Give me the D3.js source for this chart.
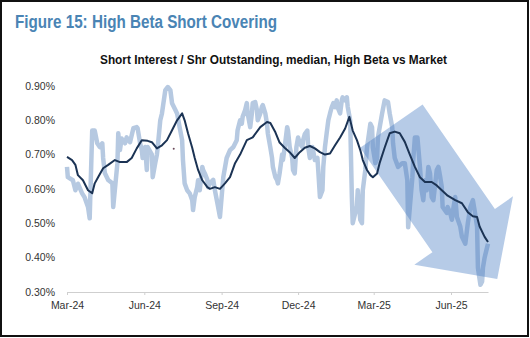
<!DOCTYPE html>
<html><head><meta charset="utf-8">
<script src="https://cdn.jsdelivr.net/npm/d3@7"></script>
<style>
html,body{margin:0;padding:0;background:#fff;}
svg{display:block;}
</style></head>
<body>
<script>
// ---- DATA ----
const startDateStr = "2024-03-01";
const endDateStr = "2025-07-15";
const yTicks = [0.30, 0.40, 0.50, 0.60, 0.70, 0.80, 0.90];
const xTickDates = ["2024-03-01","2024-06-01","2024-09-01","2024-12-01","2025-03-01","2025-06-01"];
// High Beta short interest (light series): day offsets from start date, value in %
const lightDays = [0,1,7,10,13,18,21,25,27,30,33,36,39,42,43,45,49,54,55,60,61,63,65,69,71,75,79,83,84,87,89,90,93,95,96,101,102,105,107,108,111,113,117,120,123,125,129,131,134,137,138,140,143,146,149,150,152,155,156,158,161,162,164,167,168,170,174,176,179,182,184,186,190,194,198,202,203,206,208,209,212,214,215,218,220,221,224,226,227,230,232,233,236,238,239,242,244,245,248,250,251,253,256,257,259,262,263,265,268,269,271,273,275,277,280,281,283,286,287,289,292,295,298,299,301,304,305,307,309,311,313,315,317,319,321,322,325,327,328,331,333,334,337,339,340,343,345,346,349,351,352,355,357,361,363,364,367,369,370,375,378,382,384,387,388,390,394,399,402,405,406,408,411,412,414,417,418,420,422,424,426,428,430,432,434,436,440,442,444,446,447,452,453,456,458,460,462,464,468,470,474,477,480,483,485,488,489,492,494,495,497,500,501];
const lightVals = [0.664,0.634,0.625,0.596,0.615,0.587,0.575,0.547,0.514,0.770,0.770,0.733,0.722,0.733,0.690,0.646,0.626,0.616,0.547,0.675,0.762,0.713,0.747,0.733,0.750,0.736,0.777,0.780,0.777,0.733,0.713,0.690,0.722,0.655,0.722,0.700,0.634,0.675,0.700,0.722,0.800,0.820,0.888,0.897,0.888,0.850,0.830,0.820,0.780,0.742,0.684,0.616,0.596,0.587,0.567,0.538,0.576,0.605,0.625,0.596,0.664,0.655,0.645,0.626,0.605,0.616,0.626,0.596,0.558,0.518,0.576,0.634,0.690,0.713,0.722,0.742,0.771,0.800,0.790,0.810,0.830,0.850,0.820,0.780,0.820,0.850,0.853,0.830,0.800,0.820,0.840,0.844,0.820,0.790,0.762,0.720,0.690,0.664,0.634,0.625,0.616,0.645,0.700,0.684,0.720,0.780,0.770,0.722,0.690,0.655,0.645,0.722,0.750,0.733,0.722,0.742,0.760,0.770,0.722,0.690,0.722,0.684,0.690,0.655,0.576,0.596,0.664,0.722,0.762,0.800,0.820,0.838,0.850,0.838,0.858,0.838,0.820,0.858,0.867,0.858,0.867,0.840,0.800,0.576,0.500,0.530,0.550,0.596,0.510,0.500,0.596,0.655,0.720,0.790,0.780,0.720,0.675,0.690,0.750,0.820,0.858,0.853,0.820,0.780,0.733,0.690,0.664,0.675,0.675,0.625,0.488,0.547,0.634,0.684,0.750,0.750,0.722,0.664,0.596,0.567,0.625,0.596,0.664,0.645,0.576,0.567,0.655,0.664,0.636,0.605,0.547,0.530,0.547,0.530,0.510,0.547,0.576,0.518,0.490,0.460,0.440,0.500,0.547,0.567,0.538,0.490,0.370,0.320,0.330,0.370,0.400,0.430,0.440];
// Smoothed series (dark line): day offsets and values in %
const darkDays = [0,6,10,13,19,25,30,33,37,43,49,57,63,71,77,83,89,96,101,107,113,119,125,131,137,140,144,149,152,156,161,167,170,176,182,188,194,200,206,214,221,230,238,242,248,253,259,265,271,277,283,289,295,301,307,313,319,325,331,336,340,345,349,352,357,361,364,369,372,378,384,390,396,402,408,414,420,426,434,440,446,453,462,470,477,483,488,491,497,501];
const darkVals = [0.693,0.684,0.670,0.640,0.625,0.596,0.587,0.616,0.634,0.660,0.670,0.684,0.678,0.678,0.690,0.718,0.742,0.740,0.736,0.718,0.727,0.742,0.771,0.800,0.820,0.800,0.762,0.720,0.690,0.655,0.625,0.605,0.600,0.605,0.600,0.616,0.634,0.675,0.700,0.742,0.750,0.780,0.795,0.792,0.765,0.735,0.720,0.707,0.690,0.707,0.720,0.725,0.718,0.707,0.700,0.703,0.727,0.750,0.776,0.810,0.770,0.742,0.713,0.684,0.655,0.640,0.634,0.645,0.675,0.720,0.762,0.767,0.762,0.737,0.700,0.664,0.634,0.620,0.620,0.610,0.596,0.580,0.567,0.558,0.532,0.520,0.518,0.490,0.460,0.445];
// Annotation arrow (data space): tail and tip
const arrowTail = {day: 386, value: 0.783};
const arrowTip = {day: 512, value: 0.337};
const stray = {day: 127, value: 0.717};

// ---- CHART ----
const W = 530, H = 338;
const parse = d3.timeParse("%Y-%m-%d");
const start = parse(startDateStr), end = parse(endDateStr);
const dayToDate = d => d3.timeDay.offset(start, d);

const svg = d3.select("body").append("svg").attr("width", W).attr("height", H);
svg.append("rect").attr("width",W).attr("height",H).attr("fill","#fff");
svg.append("rect").attr("x",1).attr("y",1).attr("width",527).attr("height",335)
  .attr("fill","none").attr("stroke","#111").attr("stroke-width",2);

svg.append("text").attr("x",15).attr("y",28)
  .attr("font-family","'Liberation Sans Narrow','Liberation Sans',Arial,sans-serif")
  .attr("font-weight","bold").attr("font-size",18).attr("fill","#4A84B4")
  .attr("textLength",262).attr("lengthAdjust","spacingAndGlyphs")
  .text("Figure 15: High Beta Short Covering");

svg.append("text").attr("x",100).attr("y",64)
  .attr("font-family","'Liberation Sans Narrow','Liberation Sans',Arial,sans-serif")
  .attr("font-weight","bold").attr("font-size",13).attr("fill","#111")
  .attr("textLength",347).attr("lengthAdjust","spacingAndGlyphs")
  .text("Short Interest / Shr Outstanding, median, High Beta vs Market");

const x = d3.scaleTime().domain([start, end]).range([67, 488]);
const y = d3.scaleLinear().domain([0.30, 0.90]).range([291.7, 86]);

// x axis
const xAxis = d3.axisBottom(x)
  .tickValues(xTickDates.map(parse))
  .tickFormat(d3.timeFormat("%b-%y"))
  .tickSize(3).tickSizeOuter(0);
const gx = svg.append("g").attr("transform","translate(0,292)").call(xAxis);
gx.select(".domain").attr("stroke","#cfcfcf");
gx.selectAll(".tick line").attr("stroke","#cfcfcf");
gx.selectAll(".tick text").attr("font-family","'Liberation Sans',Arial,sans-serif")
  .attr("font-size",10.5).attr("fill","#333").attr("dy","1.05em");

// y labels
const gy = svg.append("g").attr("transform","translate(55,0)")
  .call(d3.axisLeft(y).tickValues(yTicks).tickFormat(d => d3.format(".2f")(d) + "%").tickSize(0));
gy.select(".domain").remove();
gy.selectAll(".tick text").attr("font-family","'Liberation Sans',Arial,sans-serif")
  .attr("font-size",10.5).attr("fill","#333").attr("x",0);

const light = lightDays.map((d,i) => ({date: dayToDate(d), v: lightVals[i]}));
const dark = darkDays.map((d,i) => ({date: dayToDate(d), v: darkVals[i]}));
const line = d3.line().x(d => x(d.date)).y(d => y(d.v));

svg.append("path").datum(light).attr("d", line)
  .attr("fill","none").attr("stroke","#B6C9E1").attr("stroke-width",4.5)
  .attr("stroke-linejoin","round");

// arrow
const tx = x(dayToDate(arrowTail.day)), ty = y(arrowTail.value);
const px = x(dayToDate(arrowTip.day)), py = y(arrowTip.value);
const len = Math.hypot(px-tx, py-ty);
const ux = (px-tx)/len, uy = (py-ty)/len;
const nx = -uy, ny = ux;
const shaftHalf = 38, headHalf = 60, headLen = 59;
const bx = px - ux*headLen, by = py - uy*headLen;
const pts = [
  [tx + nx*shaftHalf, ty + ny*shaftHalf],
  [bx + nx*shaftHalf, by + ny*shaftHalf],
  [bx + nx*headHalf, by + ny*headHalf],
  [px, py],
  [bx - nx*headHalf, by - ny*headHalf],
  [bx - nx*shaftHalf, by - ny*shaftHalf],
  [tx - nx*shaftHalf, ty - ny*shaftHalf]
];
svg.append("polygon").attr("points", pts.map(p => p.join(",")).join(" "))
  .attr("fill","#3E75C1").attr("fill-opacity",0.38);

// dark series
svg.append("path").datum(dark).attr("d", line)
  .attr("fill","none").attr("stroke","#1B3354").attr("stroke-width",2)
  .attr("stroke-linejoin","round");

svg.append("circle").attr("cx", x(dayToDate(stray.day))).attr("cy", y(stray.value))
  .attr("r",1).attr("fill","#6a4a5a");
</script>
</body></html>
